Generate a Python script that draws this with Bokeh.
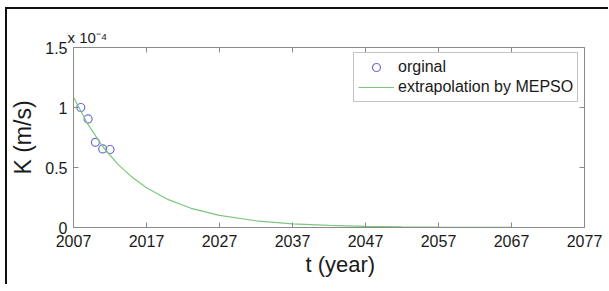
from bokeh.plotting import figure
from bokeh.models import (LinearAxis, FixedTicker, CustomJSTickFormatter, Legend,
                          LegendItem, Range1d, Title)
from bokeh.embed import file_html
from bokeh.resources import INLINE

# ---- data (K in units of 1e-4 m/s) ----
orig_years = [2008, 2009, 2010, 2011, 2012]
orig_k = [1.00, 0.905, 0.71, 0.655, 0.65]

fit_years = [2007, 2009, 2011, 2013, 2015, 2017, 2020, 2023, 2027, 2032,
             2037, 2042, 2047, 2052, 2057, 2062, 2067]
fit_k = [1.086, 0.857, 0.675, 0.532, 0.42, 0.331, 0.232, 0.162, 0.101, 0.056,
         0.031, 0.017, 0.0094, 0.005, 0.0029, 0.0016, 0.0009]

x_ticks = [2007, 2017, 2027, 2037, 2047, 2057, 2067, 2077]
y_ticks = [0, 0.5, 1, 1.5]

FONT = "Liberation Sans"
AX = "#8a8a8a"
TXT = "#1a1a1a"

p = figure(frame_width=511, frame_height=180, output_backend="svg",
           toolbar_location=None, x_range=Range1d(2007, 2077),
           y_range=Range1d(0, 1.5), min_border_left=62, min_border_right=24,
           min_border_top=38, min_border_bottom=57,
           background_fill_color="white", border_fill_color="white",
           y_axis_label="K (m/s)",
           title="x 10\u207b\u2074")
p.styles = {"margin-left": "5px", "margin-top": "7px",
            "border-left": "2px solid #111111", "border-top": "2px solid #111111"}
p.grid.visible = False
p.outline_line_color = None

p.title.align = "left"
p.title.offset = -6
p.title.standoff = 3
p.title.text_font = FONT
p.title.text_font_size = "15px"
p.title.text_font_style = "normal"
p.title.text_color = TXT

fmt = CustomJSTickFormatter(code="return tick.toString()")
blank = CustomJSTickFormatter(code="return ''")

def style_axis(ax):
    ax.axis_line_color = AX
    ax.major_tick_line_color = AX
    ax.major_tick_in = 5
    ax.major_tick_out = 0
    ax.minor_tick_line_color = None
    ax.major_label_text_font = FONT
    ax.major_label_text_font_size = "16px"
    ax.major_label_text_color = TXT
    ax.axis_label_text_font = FONT
    ax.axis_label_text_font_size = "23px"
    ax.axis_label_text_font_style = "normal"
    ax.axis_label_text_color = TXT

xa = p.xaxis[0]
xa.ticker = FixedTicker(ticks=x_ticks)
style_axis(xa)
xa.major_label_standoff = 7

ya = p.yaxis[0]
ya.ticker = FixedTicker(ticks=y_ticks)
ya.formatter = fmt
style_axis(ya)
ya.major_label_standoff = 6
ya.axis_label_standoff = 6

top = LinearAxis(ticker=FixedTicker(ticks=x_ticks), formatter=blank,
                 major_label_standoff=0)
style_axis(top)
p.add_layout(top, "above")
right = LinearAxis(ticker=FixedTicker(ticks=y_ticks), formatter=blank,
                   major_label_standoff=0)
style_axis(right)
p.add_layout(right, "right")

xlabel = Title(text="t (year)", align="left", offset=232, standoff=0,
               text_font=FONT, text_font_size="22px", text_font_style="normal",
               text_color=TXT)
p.add_layout(xlabel, "below")

r_orig = p.scatter(orig_years, orig_k, marker="circle", size=8, fill_color=None,
                   line_color="#6e6ed6", line_width=1.2)
r_fit = p.line(fit_years, fit_k, line_color="#7cc77c", line_width=1.2)

legend = Legend(items=[LegendItem(label="orginal", renderers=[r_orig]),
                       LegendItem(label="extrapolation by MEPSO", renderers=[r_fit])],
                location=(280, 125), padding=4, spacing=0, label_height=20,
                glyph_height=20, glyph_width=36, label_standoff=4, margin=0,
                border_line_color=AX, border_line_width=1,
                label_text_font=FONT, label_text_font_size="16px",
                label_text_color=TXT, background_fill_alpha=1)
p.add_layout(legend, "center")

open("out.html", "w").write(file_html(p, INLINE))
